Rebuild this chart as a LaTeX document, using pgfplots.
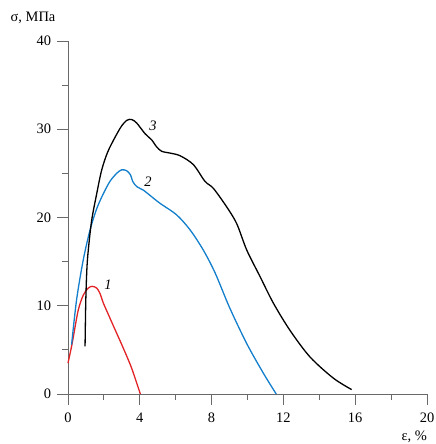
\documentclass[border=0pt]{standalone}
\usepackage{fontspec}
\setmainfont{Liberation Serif}
\usepackage{pgfplots}
\pgfplotsset{compat=1.18}
\definecolor{clrRed}{RGB}{226,34,36}
\definecolor{clrBlue}{RGB}{18,126,204}
\definecolor{clrAxis}{RGB}{105,105,105}

\begin{document}
\fontsize{14.5}{17}\selectfont
\begin{tikzpicture}[x=1bp,y=1bp]
\begin{axis}[
  at={(0,0)}, anchor=south west,
  scale only axis, width=359bp, height=353bp,
  xmin=0, xmax=20, ymin=0, ymax=40,
  axis lines*=left,
  axis line style={clrAxis, line width=0.9bp},
  xtick={0,4,...,20}, ytick={0,10,...,40},
  minor x tick num=1, minor y tick num=1,
  tick align=outside,
  major tick length=11bp, minor tick length=5.5bp,
  tick style={clrAxis, line width=0.9bp},
  every minor tick/.style={clrAxis, line width=0.9bp},
  /pgf/number format/assume math mode=true,
  ticklabel style={font=\fontsize{14.5}{17}\selectfont, text=black},
  xticklabel style={yshift=-3bp},
  yticklabel style={xshift=-1bp},
  clip=false,
]
% curve 1
\addplot[clrRed, line width=1.3bp, smooth, tension=0.5] coordinates {
  (0,3.5) (0.2,5.4) (0.3,6.5) (0.57,9.5) (0.85,11.2) (1.13,12.0) (1.35,12.2)
  (1.6,12.0) (1.78,11.4) (1.97,10.3) (2.25,9.0) (2.62,7.3) (3.08,5.2)
  (3.55,2.9) (4.03,0)
};
% curve 2
\addplot[clrBlue, line width=1.3bp, smooth, tension=0.5] coordinates {
  (0.2,5.6) (0.48,10.7) (0.85,15.2) (1.23,18.6) (1.6,21.0) (1.97,22.7)
  (2.34,24.1) (2.71,25.0) (2.99,25.4) (3.27,25.3) (3.49,24.8) (3.6,24.1)
  (3.83,23.5) (4.2,23.1) (4.57,22.5) (5.13,21.6) (6.05,20.3) (6.8,18.6)
  (7.54,16.3) (8.2,13.7) (9.0,9.8) (9.96,5.7) (10.9,2.3) (11.6,0)
};
% curve 3
\addplot[black, line width=1.3bp, smooth, tension=0.5] coordinates {
  (0.95,5.4) (0.99,10.5) (1.05,14.1) (1.13,16.3) (1.32,19.7) (1.6,22.7)
  (1.88,25.4) (2.25,27.6) (2.9,30.1) (3.27,31.0) (3.55,31.1) (3.83,30.7)
  (4.29,29.5) (4.66,28.8) (4.94,28.0) (5.22,27.5) (5.68,27.3) (6.24,27.0)
  (6.98,26.0) (7.63,24.1) (8.1,23.3) (8.84,21.2) (9.4,19.3) (9.96,16.3)
  (10.7,13.3) (11.44,10.3) (12.37,7.2) (13.48,4.2) (14.78,1.8) (15.8,0.5)
};
\node[font=\itshape] at (axis cs:2.23,12.35) {1};
\node[font=\itshape] at (axis cs:4.46,24.0) {2};
\node[font=\itshape] at (axis cs:4.74,30.4) {3};
\end{axis}
\node[anchor=base] at (-35,372) {σ, МПа};
\node[anchor=base east] at (364,-47) {ε, \%};
\pgfresetboundingbox
\path[use as bounding box] (-68,-50) rectangle (368,394);
\end{tikzpicture}
\end{document}
